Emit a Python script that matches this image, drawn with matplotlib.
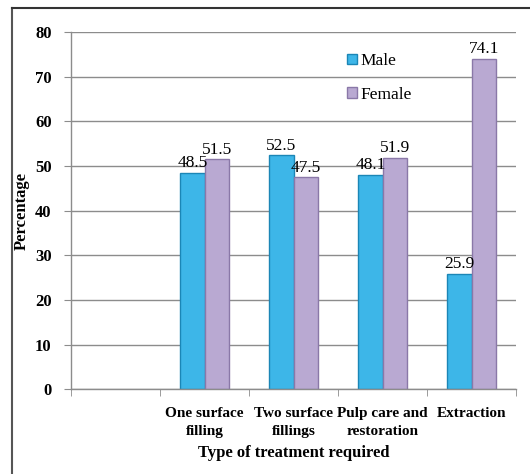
import matplotlib
matplotlib.use("Agg")
import matplotlib.pyplot as plt
import numpy as np
from matplotlib.lines import Line2D
from matplotlib.patches import Patch

# Data (first category slot is empty)
categories = ["", "One surface\nfilling", "Two surface\nfillings",
              "Pulp care and\nrestoration", "Extraction"]
male = [48.5, 52.5, 48.1, 25.9]
female = [51.5, 47.5, 51.9, 74.1]
yticks = [0, 10, 20, 30, 40, 50, 60, 70, 80]

male_color = "#3db6e8"
male_edge = "#1b86b6"
female_color = "#b9a9d2"
female_edge = "#8a78a8"
serif = ["Liberation Serif", "DejaVu Serif"]


def main():
    fig = plt.figure(figsize=(5.3, 4.74), dpi=100)
    ax = fig.add_axes([0.134, 0.179, 0.840, 0.753])

    # Grid lines behind the bars
    ax.set_axisbelow(True)
    ax.yaxis.grid(True, color="#8c8c8c", linewidth=1.0)

    pos = np.arange(1, len(categories))
    width = 0.275
    bm = ax.bar(pos - width / 2, male, width, color=male_color,
                edgecolor=male_edge, linewidth=1.0, label="Male")
    bf = ax.bar(pos + width / 2, female, width, color=female_color,
                edgecolor=female_edge, linewidth=1.0, label="Female")

    # Value labels above each bar
    for bars in (bm, bf):
        for b in bars:
            ax.annotate(f"{b.get_height():.1f}",
                        (b.get_x() + b.get_width() / 2, b.get_height()),
                        xytext=(0, 1), textcoords="offset points",
                        ha="center", va="bottom", fontsize=12.5,
                        family=serif)

    ax.set_xlim(-0.5, len(categories) - 0.5)
    ax.set_ylim(0, 80)
    ax.set_yticks(yticks)
    ax.set_xticks(np.arange(len(categories)))
    ax.set_xticklabels(categories, family=serif, fontsize=11,
                       fontweight="bold", linespacing=1.5)
    ax.set_xticks(np.arange(len(categories) + 1) - 0.5, minor=True)
    ax.tick_params(axis="x", which="major", length=0, pad=13)
    ax.tick_params(axis="x", which="minor", length=5, color="#8c8c8c")
    ax.tick_params(axis="y", length=5, color="#8c8c8c", pad=9)
    for lab in ax.get_yticklabels():
        lab.set_family(serif)
        lab.set_fontsize(12)
        lab.set_fontweight("bold")

    for side in ("top", "right"):
        ax.spines[side].set_visible(False)
    for side in ("left", "bottom"):
        ax.spines[side].set_color("#8c8c8c")
        ax.spines[side].set_linewidth(1.0)

    ax.set_ylabel("Percentage", family=serif, fontsize=12,
                  fontweight="bold", labelpad=4)
    ax.set_xlabel("Type of treatment required", family=serif,
                  fontsize=12, fontweight="bold", labelpad=5)

    handles = [Patch(facecolor=male_color, edgecolor=male_edge),
               Patch(facecolor=female_color, edgecolor=female_edge)]
    ax.legend(handles, ["Male", "Female"], loc="upper left",
              bbox_to_anchor=(0.585, 0.985), frameon=False,
              prop={"family": serif, "size": 12.5},
              handlelength=0.55, handleheight=0.55, handletextpad=0.2,
              labelspacing=1.0)

    # Outer frame (left and top edges only, as in the reference)
    fig.add_artist(Line2D([12 / 530, 12 / 530], [0.0, 1 - 8 / 474],
                          transform=fig.transFigure, color="#555555", lw=1.5))
    fig.add_artist(Line2D([12 / 530, 1.0], [1 - 8 / 474, 1 - 8 / 474],
                          transform=fig.transFigure, color="#333333", lw=1.5))

    fig.savefig("out.png", dpi=100, facecolor="white")


if __name__ == '__main__':
    main()
